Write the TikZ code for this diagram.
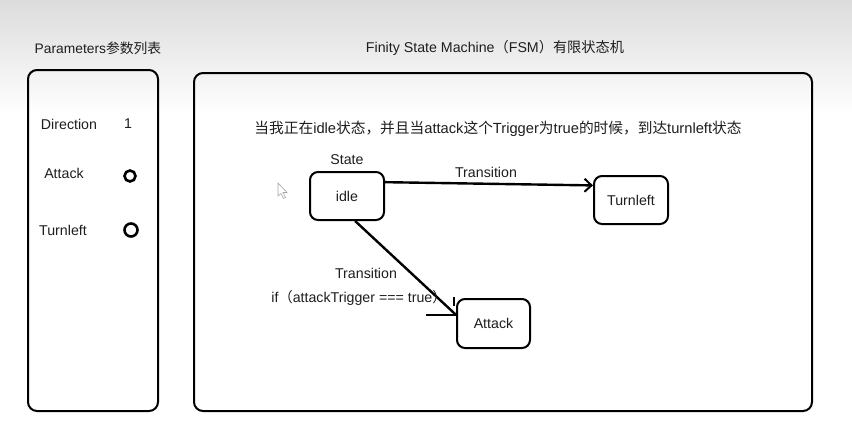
\documentclass[tikz,border=0pt]{standalone}
\usepackage{fontspec}
\setmainfont{Liberation Sans}
\newfontfamily\cjkf{Noto Sans CJK SC}
\usetikzlibrary{arrows.meta}
\definecolor{txt}{HTML}{1E1E1E}
\definecolor{bgtop}{HTML}{DCDCDC}
\begin{document}
\begin{tikzpicture}[x=1pt,y=-1pt,
  lbl/.style={font=\fontsize{14.2}{16}\selectfont, text=txt, inner sep=0pt},
  panel/.style={draw=black, line width=2pt, rounded corners=9pt},
  statebox/.style={draw=black, line width=2pt, rounded corners=8pt, minimum width=74pt, minimum height=48pt, inner sep=0pt, font=\fontsize{14.2}{16}\selectfont, text=txt},
  flag/.style={draw=black, line width=2.6pt, circle, minimum size=11pt, inner sep=0pt},
  conn/.style={draw=black, line width=2.4pt},
  barb/.style={-{Straight Barb[length=7pt,width=13pt,line width=2pt]}}
]
\useasboundingbox (0,0) rectangle (852,442);
\shade[top color=bgtop, bottom color=white] (0,0) rectangle (852,115);
\fill[white] (0,115) rectangle (852,442);

% titles
\node[lbl, font=\fontsize{13.8}{16}\selectfont] (ptitle) at (98,48) {Parameters{\cjkf 参数列表}};
\node[lbl] (ftitle) at (495,48) {Finity State Machine{\cjkf （}FSM{\cjkf ）有限状态机}};

% panels
\draw[panel] (28,70) rectangle (158,411);
\draw[panel] (194,73) rectangle (812,411);

% parameters
\node[lbl] (pdir) at (69,124) {Direction};
\node[lbl] (pdirv) at (128,124) {1};
\node[lbl] (patk) at (64,173) {Attack};
\node[flag] (patkv) at (130,176) {};
\node[lbl] (pturn) at (63,230) {Turnleft};
\node[flag, minimum size=13pt] (pturnv) at (131,230) {};

% description
\node[lbl, font=\fontsize{14.7}{16}\selectfont] (desc) at (498,129) {{\cjkf 当我正在}idle{\cjkf 状态，并且当}attack{\cjkf 这个}Trigger{\cjkf 为}true{\cjkf 的时候，到达}turnleft{\cjkf 状态}};

% states
\node[lbl] (statelbl) at (347,160) {State};
\node[statebox] (idle) at (347,196) {idle};
\node[statebox] (turn) at (631,200) {Turnleft};
\node[statebox, minimum width=73pt, minimum height=49pt] (atk) at (493.5,323.5) {Attack};

% transitions
\draw[conn, barb] (idle.20) -- (turn.159);
\node[lbl] (tlbl1) at (486,172) {Transition};

\coordinate (atip) at (atk.167);
\draw[conn] (idle.-72) -- (atip);
\draw[line width=2pt] (atip) -- ++(-30,0);
\draw[line width=2pt] ([shift={(-2,-9)}]atip) -- ++(0,-9);
\node[lbl] (tlbl2) at (366,273) {Transition};
\node[lbl] (cond) at (359,298) {if{\cjkf （}attackTrigger === true{\cjkf ）}};

% mouse cursor
\draw[gray!70, line width=0.6pt, fill=white] (278,183) -- (278,196) -- (281,193.5) -- (283.5,198.5) -- (285.5,197.5) -- (283,192.5) -- (287,192.5) -- cycle;
\end{tikzpicture}
\end{document}
